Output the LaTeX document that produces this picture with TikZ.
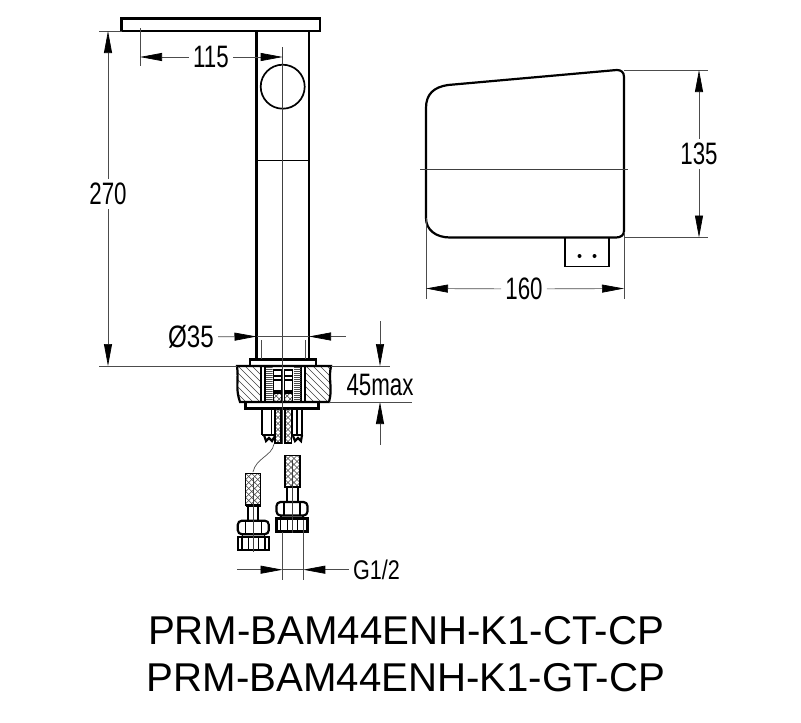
\documentclass[tikz,border=0pt]{standalone}
\usepackage{fontspec}
\usepackage{graphicx}
\setmainfont{Liberation Sans}
\usetikzlibrary{arrows.meta}
\tikzset{
  outline/.style={line width=2.2pt,black},
  med/.style={line width=1.3pt,black},
  thin line/.style={line width=0.7pt,black!75},
  dim/.style={line width=0.7pt,black!70},
  dimtip/.style={dim,{Triangle[length=22pt,width=8pt,fill=black,color=black]}-},
  dimtext/.style={inner sep=4pt,font=\fontsize{31}{31}\selectfont},
  title/.style={inner sep=0pt,font=\fontsize{40.2}{42}\selectfont},
}
\newcommand{\dimlabel}[1]{\scalebox{0.72}[1]{#1}}
% crosshatched braid
\newcommand{\braidbox}[4]{%
  \begin{scope}
    \clip (#1,#2) rectangle (#3,#4);
    \foreach \k in {-60,-54,...,120}{
      \draw[line width=0.6pt,black!75] (#1+\k,#2) -- ++(70,70);
      \draw[line width=0.6pt,black!75] (#1+\k,#2) -- ++(-70,70);
    }
  \end{scope}
  \draw[med] (#1,#2) rectangle (#3,#4);
}
% dense horizontal shading
\newcommand{\denselines}[4]{%
  \begin{scope}
    \clip (#1,#2) rectangle (#3,#4);
    \foreach \k in {0,2,...,40}{\draw[line width=0.7pt,black!70] (#1,#2+\k) -- (#3,#2+\k);}
  \end{scope}
}
% nut pair: hexagon above a knurled collar
\newcommand{\nutpair}[2]{%
  \begin{scope}[shift={(#1,#2)}]
    \draw[outline,rounded corners=4pt] (-15.5,0) rectangle (15.5,13.5);
    \draw[med] (-8,0) -- (-8,13.5) (8,0) -- (8,13.5);
    \draw[med] (-11,13.5) -- (-11,16.5) (11,13.5) -- (11,16.5);
    \draw[outline] (-15.5,16.5) rectangle (15.5,29.5);
    \draw[line width=1.5pt] (-11.5,16.5) -- (-11.5,29.5) (11.5,16.5) -- (11.5,29.5);
    \draw[line width=0.9pt] (-5,16.5) -- (-5,29.5) (5,16.5) -- (5,29.5);
  \end{scope}
}
\begin{document}
\begin{tikzpicture}[x=1pt,y=-1pt]
\useasboundingbox[fill=white] (0,0) rectangle (801,723);

% ---------- faucet body
\draw[outline] (121.5,18.5) rectangle (320,31);
\draw[outline] (256.5,31) -- (256.5,359.5);
\draw[outline] (309,31) -- (309,359.5);
\draw[med] (256.5,160.7) -- (309,160.7);
\node[circle,draw,line width=1.7pt,minimum size=44pt,inner sep=0pt] (knob) at (282.7,86.7) {};
\draw[outline] (250,359.5) rectangle (315.7,366);
\draw[line width=0.6pt,black!70] (261,340) -- (261,359) (305,340) -- (305,359);

% ---------- counter section
\begin{scope}
  \clip (237,366) .. controls (239,380) and (235,388) .. (240,402) -- (261,402) -- (261,366) -- cycle;
  \foreach \k in {-40,-33,...,40}{\draw[line width=0.6pt,black!75] (230+\k,360) -- ++(50,50);}
\end{scope}
\begin{scope}
  \clip (305,366) -- (305,402) -- (329,402) .. controls (333,388) and (328,380) .. (331,366) -- cycle;
  \foreach \k in {-40,-33,...,48}{\draw[line width=0.6pt,black!75] (298+\k,360) -- ++(50,50);}
\end{scope}
\draw[outline] (237,366) .. controls (239,380) and (235,388) .. (240,402) -- (329,402) .. controls (333,388) and (328,380) .. (331,366) -- cycle;
\draw[outline] (260.7,366) -- (260.7,402) (265,366) -- (265,402) (300.7,366) -- (300.7,402) (305,366) -- (305,402);
\denselines{265.7}{367}{272.7}{401.5}
\denselines{294}{367}{300.7}{401.5}
\foreach \vx in {273.3,284.3}{
  \draw[med] (\vx,370) rectangle (\vx+8.4,376);
  \draw[med] (\vx,380) rectangle (\vx+8.4,391);
  \draw[med] (\vx,376) -- (\vx,380) (\vx+8.4,376) -- (\vx+8.4,380);
  \braidbox{\vx}{393}{\vx+8.4}{401.7}
}
\draw[outline] (245.5,402) rectangle (318.5,408.5);

% ---------- supply tails below the counter
\draw[outline] (262.3,408.5) -- (262.3,435) (275,408.5) -- (275,435) (262.3,435) -- (275,435);
\draw[outline] (291.7,408.5) -- (291.7,435) (302.3,408.5) -- (302.3,435) (291.7,435) -- (302.3,435);
\draw[med] (271.5,408.5) -- (271.5,435) (297,408.5) -- (297,435);
\braidbox{275}{408.5}{281}{443}
\braidbox{285}{408.5}{291.7}{443}
\draw[outline] (264,435) -- (266,441) -- (269,438) -- (272,441) -- (275,436);
\draw[outline] (293,436) -- (295,441) -- (298,438) -- (301,441) -- (302,435);

% ---------- hoses
\coordinate (wireA) at (274,444);
\coordinate (wireB) at (253,472);
\draw[line width=0.7pt,black!70] (wireA) .. controls (272,456) and (256,458) .. (wireB);
\braidbox{245.7}{473.5}{260.7}{505.5}
\draw[outline] (245.7,505.5) -- (260.7,505.5);
\draw[med] (248,505.5) -- (248,520.5) (258,505.5) -- (258,520.5);
\braidbox{285}{455.5}{300}{487}
\draw[outline] (285,487) -- (300,487);
\draw[med] (287,487) -- (287,502) (298,487) -- (298,502);
\nutpair{253.3}{520.7}
\nutpair{292}{502}

% ---------- centre lines
\draw[thin line] (282.7,47) -- (282.7,444);
\draw[thin line] (253.3,478) -- (253.3,552);
\draw[thin line] (292,460) -- (292,533);

% ---------- dimension 115
\coordinate (e115a) at (140,28);
\coordinate (e115b) at (140,66);
\draw[dim] (e115a) -- (e115b);
\node[dimtext] (d115) at (211,57) {\dimlabel{115}};
\coordinate (t115a) at (140,57);
\coordinate (t115b) at (282.7,57);
\draw[dimtip] (t115a) -- (d115);
\draw[dimtip] (t115b) -- (d115);

% ---------- dimension 270
\coordinate (e270a) at (99,31);
\coordinate (e270b) at (121.5,31);
\coordinate (e270c) at (99,366);
\coordinate (e270d) at (237,366);
\draw[dim] (e270a) -- (e270b);
\draw[dim] (e270c) -- (e270d);
\node[dimtext] (d270) at (108,194) {\dimlabel{270}};
\coordinate (t270a) at (108,31);
\coordinate (t270b) at (108,366);
\draw[dimtip] (t270a) -- (d270);
\draw[dimtip] (t270b) -- (d270);

% ---------- dimension dia 35
\node[dimtext] (d35) at (191,337) {\scalebox{0.78}[1]{Ø35}};
\coordinate (t35a) at (256.5,336.5);
\coordinate (t35b) at (309,336.5);
\coordinate (t35c) at (346,336.5);
\draw[dimtip] (t35a) -- (d35);
\draw[dimtip] (t35b) -- (t35c);
\draw[dim] (t35a) -- (t35b);

% ---------- dimension 45max
\node[dimtext,fill=white,inner sep=0pt] (d45) at (380,385) {\scalebox{0.72}[1]{45max}};
\coordinate (t45a) at (380,366);
\coordinate (t45b) at (380,321);
\coordinate (t45c) at (380,402);
\coordinate (t45d) at (380,445);
\draw[dimtip] (t45a) -- (t45b);
\draw[dimtip] (t45c) -- (t45d);
\coordinate (e45a) at (331,366);
\coordinate (e45b) at (390,366);
\coordinate (e45c) at (329,402);
\coordinate (e45d) at (412,402);
\draw[dim] (e45a) -- (e45b);
\draw[dim] (e45c) -- (e45d);

% ---------- dimension G1/2
\coordinate (eGa) at (282.5,532);
\coordinate (eGb) at (282.5,580);
\coordinate (eGc) at (303.3,520);
\coordinate (eGd) at (303.3,580);
\draw[dim] (eGa) -- (eGb);
\draw[dim] (eGc) -- (eGd);
\coordinate (tGa) at (282.5,569.7);
\coordinate (tGb) at (237,569.7);
\coordinate (tGc) at (303.3,569.7);
\coordinate (tGd) at (349,569.7);
\draw[dimtip] (tGa) -- (tGb);
\draw[dimtip] (tGc) -- (tGd);
\draw[dim] (tGa) -- (tGc);
\node[dimtext,font=\fontsize{27}{27}\selectfont] (dG) at (376.5,570) {\scalebox{0.8}[1]{G1/2}};

% ---------- side view
\draw[outline] (426,108) .. controls (426,94) and (434,87) .. (448,85) -- (616.7,70) .. controls (621,70) and (624,72) .. (624,77)
  -- (624,231) .. controls (624,235) and (621,237.5) .. (616,237.5) -- (450,237.5) .. controls (436,237.5) and (426,230) .. (426,218) -- cycle;
\draw[med] (565,237.5) rectangle (609,266.7);
\fill (579.5,256) circle (2pt) (594.5,256) circle (2pt);
\coordinate (cla) at (420,169);
\coordinate (clb) at (628,169);
\draw[thin line] (cla) -- (clb);

% ---------- dimension 135
\coordinate (e135a) at (624,70);
\coordinate (e135b) at (708,70);
\coordinate (e135c) at (624,237.5);
\coordinate (e135d) at (708,237.5);
\draw[dim] (e135a) -- (e135b);
\draw[dim] (e135c) -- (e135d);
\node[dimtext] (d135) at (699,154) {\dimlabel{135}};
\coordinate (t135a) at (699,70);
\coordinate (t135b) at (699,237.5);
\draw[dimtip] (t135a) -- (d135);
\draw[dimtip] (t135b) -- (d135);

% ---------- dimension 160
\coordinate (e160a) at (426,218);
\coordinate (e160b) at (426,299);
\coordinate (e160c) at (624,232);
\coordinate (e160d) at (624,299);
\draw[dim] (e160a) -- (e160b);
\draw[dim] (e160c) -- (e160d);
\node[dimtext] (d160) at (524,289) {\dimlabel{160}};
\coordinate (t160a) at (426,288.5);
\coordinate (t160b) at (624,288.5);
\draw[dimtip] (t160a) -- (d160);
\draw[dimtip] (t160b) -- (d160);

% ---------- titles
\node[title] (t1) at (406,631) {PRM-BAM44ENH-K1-CT-CP};
\node[title] (t2) at (406,678) {PRM-BAM44ENH-K1-GT-CP};
\end{tikzpicture}
\end{document}
